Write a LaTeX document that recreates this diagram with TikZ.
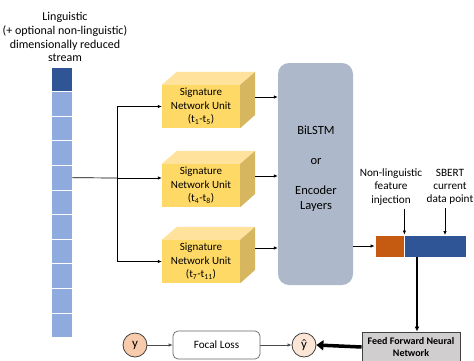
\documentclass[tikz,border=0pt]{standalone}
\usepackage{fontspec}
\setmainfont{Carlito}
\usetikzlibrary{arrows.meta,calc}
\definecolor{streamdark}{HTML}{2F5597}
\definecolor{streamlight}{HTML}{8FAADC}
\definecolor{yfront}{HTML}{FFD966}
\definecolor{ytop}{HTML}{FFE39C}
\definecolor{yside}{HTML}{D6B65E}
\definecolor{bilc}{HTML}{ADB9CA}
\definecolor{nlc}{HTML}{C55A11}
\definecolor{ffc}{HTML}{D0CECE}
\definecolor{cy}{HTML}{F8CBAD}
\definecolor{cyh}{HTML}{FBE5D6}
\tikzset{
  cell/.style={draw=white,line width=0.8pt,minimum width=21pt,minimum height=24.6pt,inner sep=0pt},
  front/.style={fill=yfront,minimum width=78pt,minimum height=43pt,inner sep=0pt,align=center,font=\fontsize{11}{13.5}\selectfont},
  arr/.style={-{Latex[length=4pt,width=3.5pt]},line width=0.7pt},
  circ/.style={circle,draw=black!75,line width=0.8pt,minimum size=24pt,inner sep=0pt,font=\fontsize{13}{14}\selectfont},
  vec/.style={draw=white,line width=0.8pt,minimum height=22pt,inner sep=0pt},
  lbl/.style={align=center,font=\fontsize{11.2}{13.2}\selectfont}
}
\begin{document}
\begin{tikzpicture}[x=1pt,y=-1pt]
\useasboundingbox (0,0) rectangle (474,360);
% title
\node[align=center,font=\fontsize{12}{13.8}\selectfont] (title) at (65,37) {Linguistic\\(+ optional non-linguistic)\\dimensionally reduced\\stream};
% stream cells
\node[cell,fill=streamdark] (c0) at (61.5,79.3) {};
\foreach \i in {1,...,10}{
  \node[cell,fill=streamlight] (c\i) at (61.5,{79.3+24.6*\i}) {};
}
% signature boxes
\foreach \n/\t/\lab in {1/85/{(t\textsubscript{1}-t\textsubscript{5})},2/164/{(t\textsubscript{4}-t\textsubscript{8})},3/240/{(t\textsubscript{7}-t\textsubscript{11})}}{
  \node[front] (s\n) at (201,\t+21.5) {Signature\\Network Unit\\\lab};
  \fill[ytop] (s\n.north west) -- ++(15,-13) -- ++(78,0) -- (s\n.north east) -- cycle;
  \fill[yside] (s\n.north east) -- ++(15,-13) -- ++(0,43) -- (s\n.south east) -- cycle;
}
% BiLSTM
\node[fill=bilc,rounded corners=11pt,minimum width=75pt,minimum height=222pt,inner sep=0pt] (bil) at (315.5,174) {};
\node[align=center,font=\fontsize{12.5}{15}\selectfont] (biltxt) at (316,169) {BiLSTM\\[15pt]or\\[15pt]Encoder\\Layers};
% branch
\coordinate (br) at (117,178);
\draw[line width=0.7pt] (c4.east) -- (br);
\draw[arr] (br) |- (s1.west);
\draw[arr] (br) -- (br -| s2.west);
\draw[arr] (br) |- (s3.west);
% box outputs
\coordinate (o1) at (255,97);
\coordinate (o2) at (255,176);
\coordinate (o3) at (255,248);
\foreach \n in {1,2,3}{\draw[arr] (o\n) -- (o\n -| bil.west);}
% output vector
\node[vec,fill=nlc,minimum width=29pt] (nl) at (389.5,246) {};
\node[vec,fill=streamdark,minimum width=62pt] (sb) at (435,246) {};
\draw[arr] (bil.east |- nl.west) -- (nl.west);
\node[lbl] (nlt) at (391,187) {Non-linguistic\\feature\\injection};
\node[lbl] (sbt) at (450,187) {SBERT\\current\\data point};
\draw[arr] (nlt.south -| nl.north east) -- (nl.north east);
\coordinate (sbin) at (445,235);
\draw[arr] (sbt.south -| sbin) -- (sbin);
% FFNN
\node[fill=ffc,draw=black!75,line width=0.9pt,minimum width=98pt,minimum height=30pt,inner sep=0pt,align=center,font=\bfseries\fontsize{10}{11.5}\selectfont] (ff) at (411,347) {Feed Forward Neural\\Network};
\coordinate (down) at (417,257);
\draw[-{Latex[length=5pt,width=5pt]},line width=1.8pt] (down) -- (down |- ff.north);
% bottom row
\node[circ,fill=cyh] (yh) at (304,345) {ŷ};
\draw[-{Triangle[length=7pt,width=10pt]},line width=3.5pt] (ff.west) -- (yh.east);
\node[draw=black!60,line width=0.7pt,rounded corners=5pt,minimum width=87pt,minimum height=28pt,inner sep=0pt,font=\fontsize{11.2}{13}\selectfont] (fl) at (216.5,345) {Focal Loss};
\node[circ,fill=cy] (y) at (135,345) {y};
\draw[arr,draw=black!70] (y) -- (fl);
\draw[arr,draw=black!70] (fl) -- (yh);
\end{tikzpicture}
\end{document}
